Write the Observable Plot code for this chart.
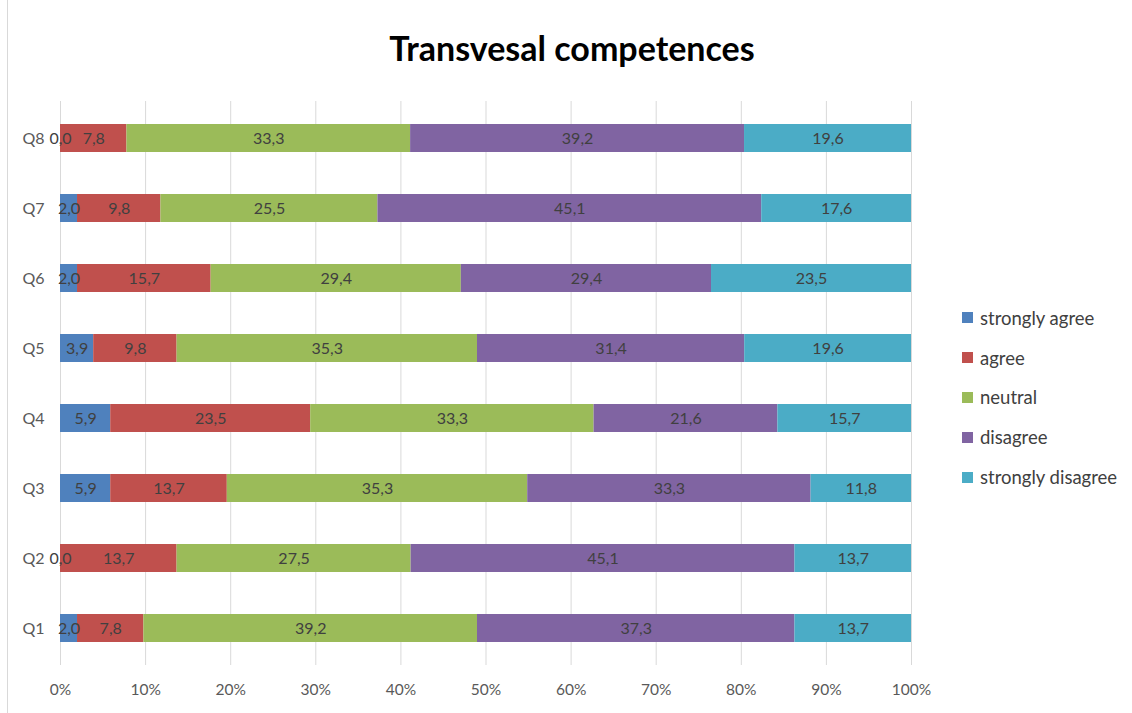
<!DOCTYPE html>
<html>
<head>
<meta charset="utf-8">
<script src="https://cdn.jsdelivr.net/npm/d3@7"></script>
<script src="https://cdn.jsdelivr.net/npm/@observablehq/plot@0.6"></script>
<style>
  html, body { margin: 0; padding: 0; background: #fff; }
  #wrap { position: relative; width: 1132px; height: 713px; overflow: hidden; font-family: Lato, "Open Sans", sans-serif; }
  #frame { position: absolute; left: 7px; top: 0; width: 1px; height: 713px; background: #d9d9d9; }
  #title { position: absolute; left: 0; width: 1132px; top: 27px; text-align: center; font-size: 34px; font-weight: bold; color: #000; padding-left: 12px; box-sizing: border-box; }
  #chart { position: absolute; left: 0; top: 0; }
  #legend { position: absolute; left: 962px; top: 298px; font-size: 18.5px; color: #404040; }
  .item { display: flex; align-items: center; height: 39.8px; margin: 0; }
  .item .sw { width: 11px; height: 11px; margin-right: 7px; }
</style>
</head>
<body>
<div id="wrap">
  <div id="frame"></div>
  <div id="chart"></div>
  <div id="title">Transvesal competences</div>
  <div id="legend"></div>
</div>
<script>
const questions = ["Q1", "Q2", "Q3", "Q4", "Q5", "Q6", "Q7", "Q8"];
const categories = ["strongly agree", "agree", "neutral", "disagree", "strongly disagree"];
const colors = ["#4f81bd", "#c0504d", "#9bbb59", "#8064a2", "#4bacc6"];
const stronglyAgree    = [2.0, 0.0, 5.9, 5.9, 3.9, 2.0, 2.0, 0.0];
const agree            = [7.8, 13.7, 13.7, 23.5, 9.8, 15.7, 9.8, 7.8];
const neutral          = [39.2, 27.5, 35.3, 33.3, 35.3, 29.4, 25.5, 33.3];
const disagree         = [37.3, 45.1, 33.3, 21.6, 31.4, 29.4, 45.1, 39.2];
const stronglyDisagree = [13.7, 13.7, 11.8, 15.7, 19.6, 23.5, 17.6, 19.6];
const xTicks = [0, 0.1, 0.2, 0.3, 0.4, 0.5, 0.6, 0.7, 0.8, 0.9, 1.0];

const series = [stronglyAgree, agree, neutral, disagree, stronglyDisagree];
const data = [];
questions.forEach((q, i) => {
  categories.forEach((c, j) => {
    data.push({q, cat: c, value: series[j][i]});
  });
});

const fmt = v => v.toFixed(1).replace(".", ",");

const plot = Plot.plot({
  width: 1132,
  height: 713,
  marginLeft: 60,
  marginRight: 221,
  marginTop: 101,
  marginBottom: 48,
  style: {fontFamily: "Lato, 'Open Sans', sans-serif", fontSize: "15px", background: "transparent"},
  x: {domain: [0, 1], ticks: xTicks, tickFormat: d => Math.round(d * 100) + "%", label: null},
  y: {domain: questions.slice().reverse(), label: null, paddingInner: 0.6, paddingOuter: 0.3},
  color: {domain: categories, range: colors},
  marks: [
    Plot.gridX(xTicks, {stroke: "#d9d9d9", strokeOpacity: 1, strokeWidth: 1}),
    Plot.barX(data, Plot.stackX({x: "value", y: "q", z: "cat", fill: "cat", offset: "normalize", order: null})),
    Plot.textX(data, Plot.stackX({x: "value", y: "q", z: "cat", offset: "normalize", order: null, text: d => fmt(d.value), fill: "#404040", fontSize: 16})),
    Plot.axisX({ticks: xTicks, tickSize: 0, tickPadding: 18, tickFormat: d => Math.round(d * 100) + "%", fill: "#595959", fontSize: 15.5, label: null}),
    Plot.axisY({tickSize: 0, tickPadding: 16, fill: "#595959", fontSize: 16, label: null})
  ]
});
document.getElementById("chart").appendChild(plot);

const legend = document.getElementById("legend");
categories.forEach((c, j) => {
  const it = document.createElement("div");
  it.className = "item";
  const sw = document.createElement("span");
  sw.className = "sw";
  sw.style.background = colors[j];
  const tx = document.createElement("span");
  tx.textContent = c;
  it.appendChild(sw);
  it.appendChild(tx);
  legend.appendChild(it);
});
</script>
</body>
</html>
